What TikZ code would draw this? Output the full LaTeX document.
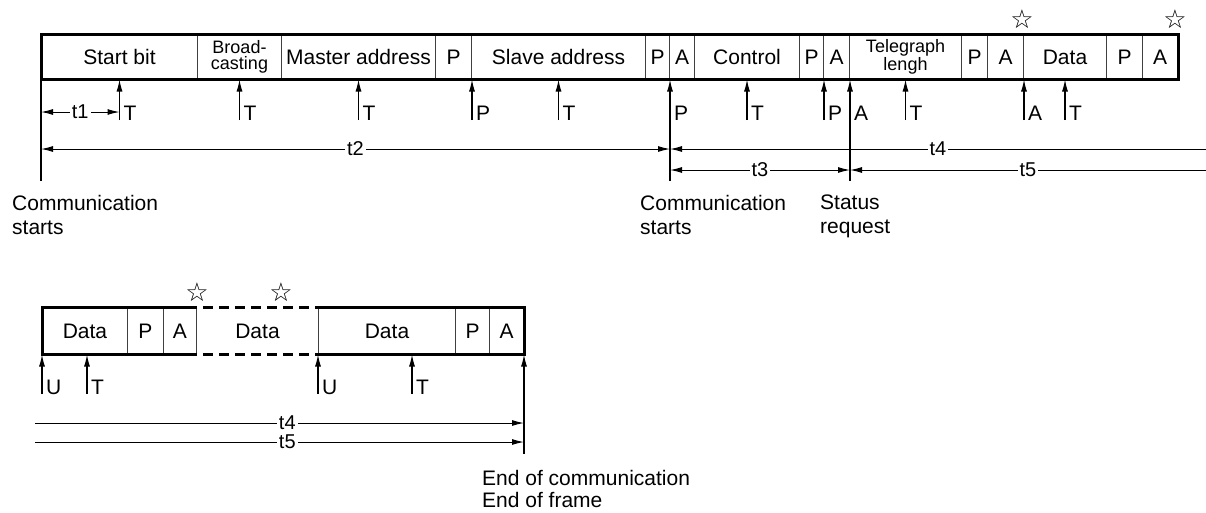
\documentclass[tikz,border=0pt]{standalone}
\usepackage{fontspec}
\setmainfont{Liberation Sans}
\newfontfamily\starfont{DejaVu Sans}
\usetikzlibrary{arrows.meta}

\begin{document}
\begin{tikzpicture}[x=1pt,y=-1pt,
  every node/.style={font=\fontsize{21}{24}\selectfont, inner sep=0pt},
  big/.style={},
  small/.style={font=\fontsize{18}{16}\selectfont, align=center},
  cell/.style={draw=black!75, line width=1pt, anchor=west, minimum height=44pt},
  frame/.style={line width=3pt},
  upmark/.style={-{Latex[length=12pt,width=6pt]}, line width=1.1pt},
  tag/.style={anchor=base west, xshift=4pt},
  span/.style={line width=1pt},
  both/.style={{Latex[length=12pt,width=6pt]}-{Latex[length=12pt,width=6pt]}},
  tolft/.style={{Latex[length=12pt,width=6pt]}-},
  torgt/.style={-{Latex[length=12pt,width=6pt]}},
  tlabel/.style={fill=white, inner xsep=2pt, font=\fontsize{20}{20}\selectfont},
  note/.style={anchor=north west, align=left},
  star/.style={font=\starfont\fontsize{26}{26}\selectfont}]
  \useasboundingbox (0,0) rectangle (1206,512);

  % upper frame
  \foreach \nm/\l/\r/\st/\txt in {start/41/197/big/{Start bit}, bcast/197/281/small/{Broad-\\casting},
      maddr/281/435/big/{Master address}, p1/435/471/big/P, saddr/471/645/big/{Slave address},
      p2/645/669/big/P, a2/669/694/big/A, ctrl/694/799/big/Control, p3/799/823/big/P,
      a3/823/849/big/A, tlen/849/961/small/{Telegraph\\lengh}, p4/961/987/big/P,
      a4/987/1023/big/A, data/1023/1106/big/Data, p5/1106/1142/big/P, a5/1142/1177/big/A}
    \node[cell, \st, minimum width=\r-\l] (\nm) at (\l,57) {\txt};
  \draw[frame] (start.north west) rectangle (a5.south east);
  \node[star] (s1) at (1022,19) {☆};
  \node[star] (s2) at (1175,19) {☆};

  \foreach \at/\lab [count=\i] in {start.south/T, bcast.south/T, maddr.south/T, p1.south east/P,
      saddr.south/T, ctrl.south/T, p3.south east/P, tlen.south/T, a4.south east/A, data.south/T} {
    \coordinate (up\i) at (\at |- 0,120);
    \draw[upmark] (up\i) -- (\at);
    \node[tag] (tag\i) at (up\i) {\lab};
  }
  \coordinate (cs1) at (start.south west |- 0,181);
  \draw[line width=1.1pt] (cs1) -- (start.south west);
  \coordinate (cs2) at (p2.south east |- 0,181);
  \draw[upmark] (cs2) -- (p2.south east);
  \node[tag] (tagP) at (p2.south east |- 0,120) {P};
  \coordinate (sreq) at (a3.south east |- 0,181);
  \draw[upmark] (sreq) -- (a3.south east);
  \node[tag] (tagA) at (a3.south east |- 0,120) {A};

  % time spans
  \draw[span, both] (start.south west |- 0,112) -- node[tlabel] (t1) {t1} (start.south |- 0,112);
  \draw[span, both] (start.south west |- 0,149) -- node[tlabel] (t2) {t2} (p2.south east |- 0,149);
  \coordinate (rimA) at (1206,149);
  \draw[span, tolft] (p2.south east |- 0,149) -- node[tlabel] (t4a) {t4} (rimA);
  \draw[span, both] (p2.south east |- 0,170) -- node[tlabel] (t3) {t3} (a3.south east |- 0,170);
  \coordinate (rimB) at (1206,170);
  \draw[span, tolft] (a3.south east |- 0,170) -- node[tlabel] (t5a) {t5} (rimB);

  \node[note] (comm1) at (12,195) {Communication\\starts};
  \node[note] (comm2) at (640,195) {Communication\\starts};
  \node[note] (stat) at (820,195) {Status\\request};

  % lower frame
  \foreach \nm/\l/\r/\txt in {bdat1/42/127/Data, bp1/127/163/P, ba1/163/196/A,
      bdat3/318/455/Data, bp2/455/489/P, ba2/489/523/A}
    \node[cell, minimum width=\r-\l, minimum height=46pt] (\nm) at (\l,331) {\txt};
  \node[cell, draw=none, minimum width=122, minimum height=46pt] (bdat2) at (196,331) {Data};
  \draw[frame] (ba1.north east) -- (bdat1.north west) -- (bdat1.south west) -- (ba1.south east);
  \draw[frame] (bdat3.north west) -- (ba2.north east) -- (ba2.south east) -- (bdat3.south west);
  \draw[frame, dash pattern=on 10pt off 6pt, dash phase=10pt]
    (ba1.north east) -- (bdat3.north west) (ba1.south east) -- (bdat3.south west);
  \node[star] (s3) at (197,292) {☆};
  \node[star] (s4) at (281,292) {☆};

  \foreach \x/\lab [count=\i] in {42/U, 87/T, 318/U, 412/T} {
    \coordinate (lo\i) at (\x,394);
    \draw[upmark] (lo\i) -- (lo\i |- bdat1.south);
    \node[tag] (ltag\i) at (lo\i) {\lab};
  }
  \coordinate (eoc) at (ba2.south east |- 0,454);
  \draw[upmark] (eoc) -- (ba2.south east);
  \coordinate (rimC) at (35,423);
  \draw[span, torgt] (rimC) -- node[tlabel, pos=0.516] (t4b) {t4} (ba2.south east |- 0,423);
  \coordinate (rimD) at (35,442);
  \draw[span, torgt] (rimD) -- node[tlabel, pos=0.516] (t5b) {t5} (ba2.south east |- 0,442);
  \node[note, font=\fontsize{21}{22}\selectfont] (endc) at (482,470) {End of communication\\End of frame};
\end{tikzpicture}
\end{document}
